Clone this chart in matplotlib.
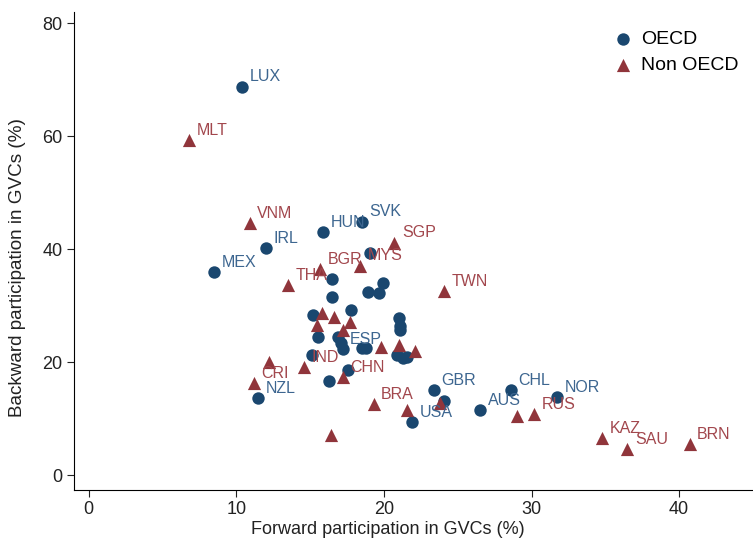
import matplotlib
matplotlib.use("Agg")
import matplotlib.pyplot as plt

plt.rcParams['font.family'] = ['Liberation Sans', 'DejaVu Sans']

# OECD economies (forward %, backward %)
oecd_labels = ['LUX', 'MEX', 'IRL', 'HUN', 'SVK', 'NZL', 'GBR', 'USA', 'AUS', 'CHL', 'NOR', 'ESP',
               '', '', '', '', '', '', '', '', '', '', '', '',
               '', '', '', '', '', '', '', '', '', '', '']
oecd_fwd = [10.4, 8.5, 12.0, 15.9, 18.5, 11.5, 23.4, 21.9, 26.5, 28.6, 31.7, 17.2,
            19.05, 16.5, 19.95, 18.9, 19.7, 16.5, 17.8, 15.2, 21.0, 21.1, 21.1, 15.55,
            16.9, 17.1, 18.5, 18.8, 15.1, 20.9, 21.3, 21.6, 17.6, 16.3, 24.1]
oecd_bwd = [68.8, 36.0, 40.2, 43.1, 44.9, 13.7, 15.1, 9.4, 11.6, 15.1, 13.8, 22.4,
            39.3, 34.8, 34.1, 32.5, 32.3, 31.5, 29.3, 28.4, 27.9, 26.5, 25.8, 24.5,
            24.5, 23.4, 22.5, 22.5, 21.3, 21.3, 20.7, 21.0, 18.6, 16.7, 13.2]

# Non-OECD economies
non_labels = ['MLT', 'VNM', 'THA', 'BGR', 'MYS', 'SGP', 'TWN', 'IND', 'CHN', 'CRI', 'BRA',
              'RUS', 'KAZ', 'SAU', 'BRN',
              '', '', '', '', '', '', '', '', '', '', '', '', '']
non_fwd = [6.8, 10.9, 13.5, 15.7, 18.4, 20.7, 24.1, 14.6, 17.2, 11.2, 19.3,
           30.2, 34.8, 36.5, 40.7,
           12.2, 23.8, 16.4, 21.6, 29.0, 15.8, 16.6, 15.5, 17.7, 17.2, 19.8, 21.0, 22.1]
non_bwd = [59.3, 44.7, 33.7, 36.5, 37.1, 41.2, 32.6, 19.2, 17.4, 16.4, 12.6,
           10.9, 6.6, 4.7, 5.5,
           20.1, 12.9, 7.1, 11.6, 10.5, 28.7, 28.0, 26.7, 27.1, 25.7, 22.7, 23.0, 22.0]

blue = '#1a476f'
red = '#90353b'
blue_txt = '#3d6690'
red_txt = '#a2474d'
ink = '#222222'

fig = plt.figure(figsize=(7.53, 5.41), dpi=100)
ax = fig.add_axes([0.098, 0.094, 0.902, 0.884])

ax.scatter(oecd_fwd, oecd_bwd, marker='o', s=80, color=blue, linewidths=0, label='OECD', zorder=3)
ax.scatter(non_fwd, non_bwd, marker='^', s=90, color=red, linewidths=0, label='Non OECD', zorder=3)

for lab, x, y in zip(oecd_labels, oecd_fwd, oecd_bwd):
    if lab:
        ax.annotate(lab, (x, y), xytext=(5.5, 7), textcoords='offset points',
                    ha='left', va='center', fontsize=11.5, color=blue_txt, zorder=4)
for lab, x, y in zip(non_labels, non_fwd, non_bwd):
    if lab:
        ax.annotate(lab, (x, y), xytext=(5.5, 7), textcoords='offset points',
                    ha='left', va='center', fontsize=11.5, color=red_txt, zorder=4)

ax.set_xlim(-1, 45)
ax.set_ylim(-2.6, 82)
ax.set_xticks([0, 10, 20, 30, 40])
ax.set_yticks([0, 20, 40, 60, 80])
ax.tick_params(labelsize=13, length=5, pad=3, color=ink, labelcolor=ink)
ax.spines['top'].set_visible(False)
ax.spines['right'].set_visible(False)
ax.set_xlabel('Forward participation in GVCs (%)', fontsize=13, color=ink)
ax.xaxis.set_label_coords(0.462, -0.064)
ax.set_ylabel('Backward participation in GVCs (%)', fontsize=13.6, color=ink)
ax.yaxis.set_label_coords(-0.070, 0.465)

ax.legend(loc='upper right', frameon=False, fontsize=14, handlelength=1.0, handletextpad=0.4,
          labelspacing=0.45, borderaxespad=0.0, bbox_to_anchor=(0.99, 0.978))

fig.savefig('out.png', dpi=100)
